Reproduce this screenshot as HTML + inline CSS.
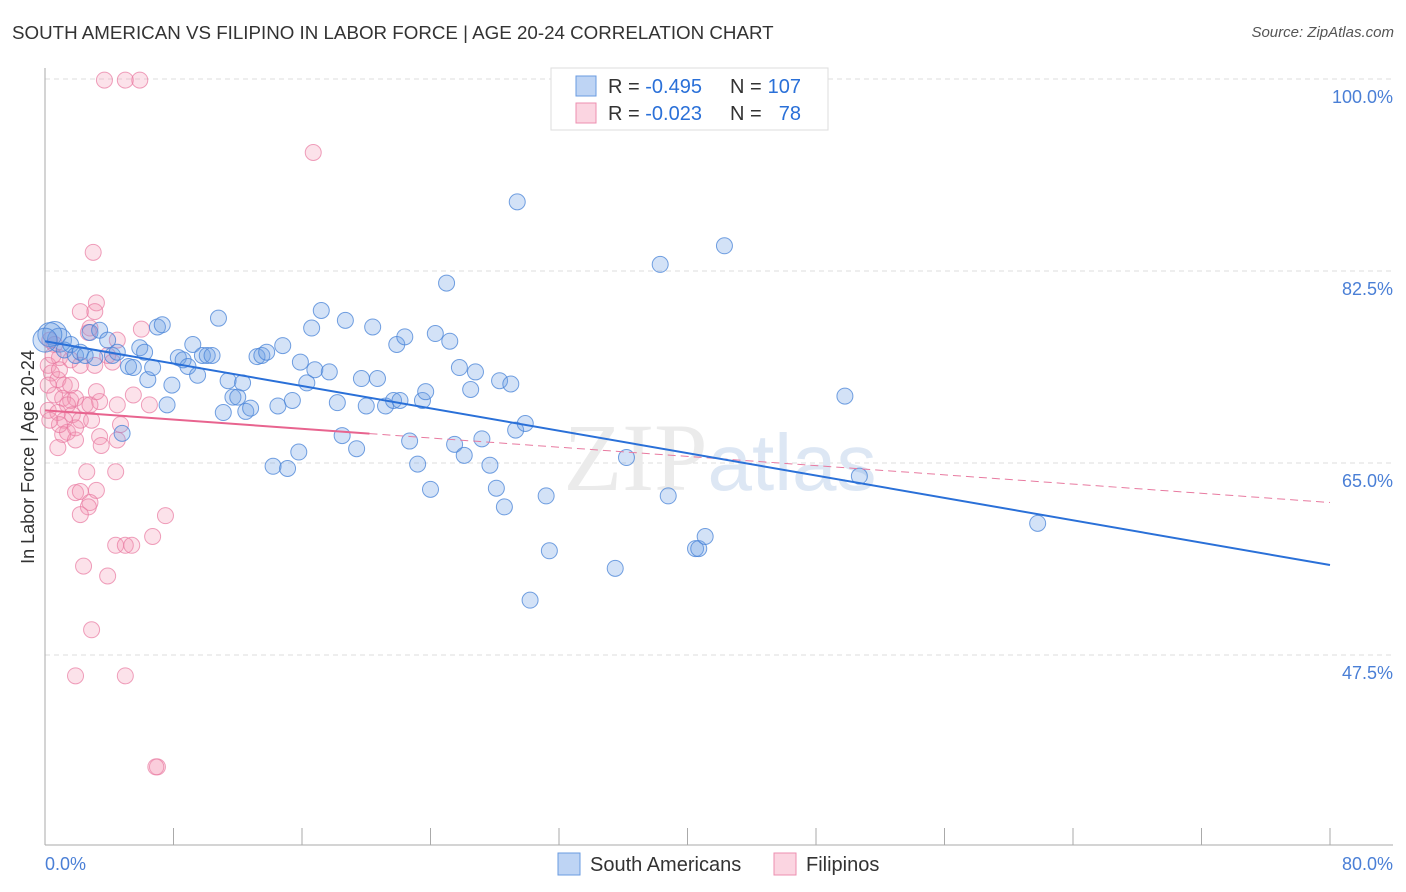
<!DOCTYPE html>
<html><head><meta charset="utf-8"><style>
body{margin:0;background:#fff;font-family:"Liberation Sans",sans-serif;}
#wrap{position:relative;width:1406px;height:892px;overflow:hidden;}
.t{position:absolute;white-space:nowrap;}
</style></head><body>
<div id="wrap">
<div class="t" style="left:12px;top:22px;font-size:18.75px;color:#333;">SOUTH AMERICAN VS FILIPINO IN LABOR FORCE | AGE 20-24 CORRELATION CHART</div>
<div class="t" style="right:12px;top:24px;font-size:15px;color:#555;font-style:italic;">Source: ZipAtlas.com</div>
<svg id="svg" width="1406" height="892" style="position:absolute;left:0;top:0"></svg>
</div>
<script>
const blueX=[0.6,0.9,1.2,1.6,1.9,2.2,2.5,2.8,3.1,3.4,3.9,4.2,4.5,4.8,5.2,5.5,5.9,6.2,6.4,6.7,7.0,7.3,7.6,7.9,8.3,8.6,8.9,9.2,9.5,9.8,10.1,10.4,10.8,11.1,11.4,11.7,12.0,12.3,12.5,12.8,13.2,13.5,13.8,14.2,14.5,14.8,15.1,15.4,15.8,15.9,16.3,16.6,16.8,17.2,17.7,18.2,18.5,18.7,19.4,19.7,20.0,20.4,20.7,21.2,21.7,21.9,22.1,22.4,22.7,23.2,23.5,23.7,24.0,24.3,25.0,25.2,25.5,25.8,26.1,26.5,26.8,27.2,27.7,28.1,28.3,28.6,29.0,29.3,29.4,29.9,30.2,31.2,31.4,35.5,36.2,38.3,38.8,40.5,40.7,41.1,42.3,49.8,50.7,61.8,0.3,0.0];
const blueY=[76.8,76.2,75.3,75.8,74.8,75.1,74.8,76.9,74.6,77.1,76.2,74.8,75.1,67.7,73.8,73.7,75.5,75.1,72.6,73.7,77.4,77.6,70.3,72.1,74.6,74.4,73.8,75.8,73.0,74.8,74.8,74.8,78.2,69.6,72.5,71.0,71.0,72.3,69.7,70.0,74.7,74.8,75.1,64.7,70.2,75.7,64.5,70.7,66.0,74.2,72.3,77.3,73.5,78.9,73.3,70.5,67.5,78.0,66.3,72.7,70.2,77.4,72.7,70.2,70.7,75.8,70.7,76.5,67.0,64.9,70.7,71.5,62.6,76.8,81.4,76.1,66.7,73.7,65.7,71.7,73.3,67.2,64.8,62.7,72.5,61.0,72.2,68.0,88.8,68.6,52.5,62.0,57.0,55.4,65.5,83.1,62.0,57.2,57.2,58.3,84.8,71.1,63.8,59.5,76.7,76.2];
const pinkX=[3.7,5.0,5.9,16.7,3.0,3.2,3.1,2.2,2.8,2.7,4.5,6.0,0.3,0.6,0.9,0.2,0.4,0.8,1.2,0.6,1.1,1.6,1.9,1.4,2.5,3.4,0.2,0.8,1.2,1.7,2.2,2.8,3.2,4.5,6.5,5.5,1.1,1.4,1.9,3.4,3.5,4.5,0.9,2.6,4.4,1.9,2.2,3.2,2.8,2.7,2.2,7.5,6.7,4.4,5.0,5.4,2.4,3.9,2.9,1.9,5.0,7.0,6.9,0.5,1.6,0.2,2.2,3.1,3.9,4.2,1.6,0.3,0.8,1.9,2.9,4.7,0.9];
const pinkY=[99.9,99.9,99.9,93.3,84.2,79.6,78.8,78.8,77.3,76.9,76.2,77.2,76.2,75.8,74.6,73.9,73.2,72.6,72.1,71.2,70.9,70.7,70.9,70.3,70.3,70.6,69.8,69.6,68.9,69.4,68.9,70.3,71.5,70.3,70.3,71.2,67.6,67.8,67.1,67.4,66.6,67.1,68.5,64.2,64.2,62.3,62.4,62.5,61.4,61.0,60.3,60.2,58.3,57.5,57.5,57.5,55.6,54.7,49.8,45.6,45.6,37.3,37.3,74.8,74.4,72.1,73.9,73.9,74.8,74.2,72.1,68.9,66.4,68.2,68.9,68.5,73.5];
const blueTrend=[76.1,55.7];
const pinkTrend=[69.8,61.4];
const pinkSolidEnd=20.2;
const yTicks=[100,82.5,65,47.5];
const yTickLabels=["100.0%","82.5%","65.0%","47.5%"];
const xEdgeLabels=["0.0%","80.0%"];
const sx=v=>45+v/80*1285, sy=v=>79+(100-v)/17.5*192;
const svg=document.getElementById('svg'),NS='http://www.w3.org/2000/svg';
function mk(tag,at){const e=document.createElementNS(NS,tag);for(const k in at)e.setAttribute(k,at[k]);svg.appendChild(e);return e;}
yTicks.forEach((v,i)=>{
 const g=mk('line',{x1:45,x2:1393,y1:sy(v),y2:sy(v),stroke:'#ddd','stroke-dasharray':'5,4'});
 
 
 const t=mk('text',{x:1393,y:sy(v)+24,'text-anchor':'end','font-size':18,fill:'#4a7fd6','font-family':'Liberation Sans'});
 t.textContent=yTickLabels[i];
 
 
});
const ax=mk('line',{x1:45,x2:45,y1:68,y2:845,stroke:'#aaa'});


const bx=mk('line',{x1:45,x2:1393,y1:845,y2:845,stroke:'#aaa'});


for(let i=0;i<=10;i++){const tk=mk('line',{x1:sx(i*8),x2:sx(i*8),y1:828,y2:845,stroke:'#aaa'});
 
 }
[[0,'start',45],[1,'end',1393]].forEach(([i,a,x])=>{const t=mk('text',{x:x,y:870,'text-anchor':a,'font-size':18,fill:'#4a7fd6','font-family':'Liberation Sans'});t.textContent=xEdgeLabels[i];
 
 });
const yl=mk('text',{x:34,y:457,transform:'rotate(-90 34 457)','text-anchor':'middle','font-size':18,fill:'#333','font-family':'Liberation Sans'});
yl.textContent='In Labor Force | Age 20-24';


const wm=mk('text',{x:720,y:490,'text-anchor':'middle','font-size':96,fill:'#ebebeb','font-family':'Liberation Serif'});
wm.innerHTML='ZIP<tspan fill="#dde7f4" font-family="Liberation Sans" font-size="80">atlas</tspan>';


pinkX.forEach((x,i)=>{const c=mk('circle',{cx:sx(x),cy:sy(pinkY[i]),r:8,fill:'rgba(244,150,180,0.28)',stroke:'rgba(232,120,160,0.7)','stroke-width':1});
 
 });
blueX.forEach((x,i)=>{const c=mk('circle',{cx:sx(x),cy:sy(blueY[i]),r:(i>=104||i<2)?12:8,fill:'rgba(110,160,230,0.3)',stroke:'rgba(70,130,215,0.75)','stroke-width':1});
 
 });
const pf=x=>pinkTrend[0]+(pinkTrend[1]-pinkTrend[0])*x/80;
const pd=mk('line',{x1:sx(pinkSolidEnd),y1:sy(pf(pinkSolidEnd)),x2:sx(80),y2:sy(pinkTrend[1]),stroke:'#e87aa0','stroke-width':1,'stroke-dasharray':'8,5'});


const ps=mk('line',{x1:sx(0),y1:sy(pinkTrend[0]),x2:sx(pinkSolidEnd),y2:sy(pf(pinkSolidEnd)),stroke:'#e8648f','stroke-width':2});


const bl=mk('line',{x1:sx(0),y1:sy(blueTrend[0]),x2:sx(80),y2:sy(blueTrend[1]),stroke:'#2a70d8','stroke-width':2});


const lb=mk('rect',{x:551,y:68,width:277,height:62,fill:'#fff',stroke:'#ddd'});


[[0,'rgba(110,160,230,0.45)','#6a9be0','-0.495','107'],[1,'rgba(244,150,180,0.4)','#ee8fb0','-0.023','78']].forEach(([i,f,s,r,n])=>{
 const y=76+i*27;
 const sw=mk('rect',{x:576,y:y,width:20,height:20,fill:f,stroke:s});
 
 
 const t1=mk('text',{x:608,y:y+17,'font-size':20,fill:'#333','font-family':'Liberation Sans'});
 t1.innerHTML='R = <tspan fill="#2a70d8">'+r+'</tspan>';
 
 
 const t2=mk('text',{x:730,y:y+17,'font-size':20,fill:'#333','font-family':'Liberation Sans'});
 t2.textContent='N =';
 
 
 const t3=mk('text',{x:801,y:y+17,'text-anchor':'end','font-size':20,fill:'#2a70d8','font-family':'Liberation Sans'});
 t3.textContent=n;
 
 
});
[[558,'rgba(110,160,230,0.45)','#6a9be0','South Americans'],[774,'rgba(244,150,180,0.4)','#ee8fb0','Filipinos']].forEach(([x,f,s,l])=>{
 const sw=mk('rect',{x:x,y:853,width:22,height:22,fill:f,stroke:s});
 
 
 const t=mk('text',{x:x+32,y:871,'font-size':20,fill:'#333','font-family':'Liberation Sans'});
 t.textContent=l;
 
 
});
</script>
</body></html>
